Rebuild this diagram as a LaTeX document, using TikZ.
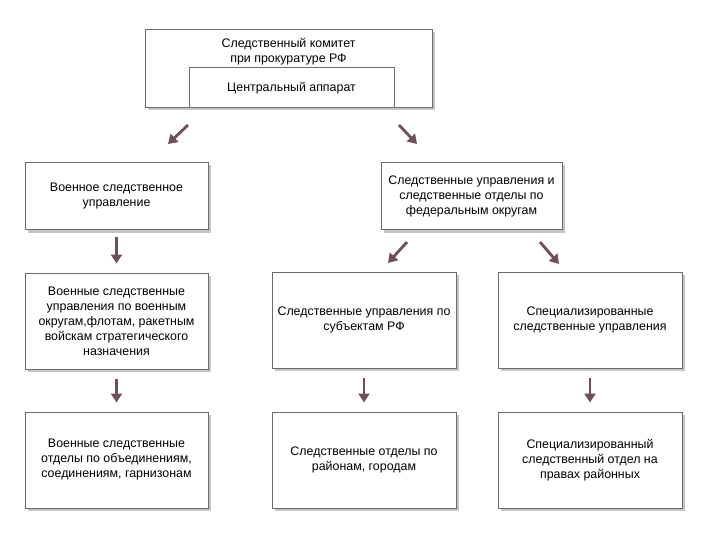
\documentclass[tikz,border=0pt]{standalone}
\usepackage{fontspec}
\setmainfont{Liberation Sans}
\usetikzlibrary{arrows.meta,shadows}
\definecolor{strelka}{RGB}{112,78,92}
\definecolor{ramka}{RGB}{105,105,105}

\begin{document}
\begin{tikzpicture}[x=1pt,y=-1pt,font=\fontsize{12.4}{15}\selectfont]

      \useasboundingbox (0,0) rectangle (720,540);

      \begin{scope}[every node/.style={draw=ramka,line width=1pt,fill=white,align=center,inner sep=0pt,
          drop shadow={shadow xshift=2.5pt,shadow yshift=-2.5pt,fill=black!45}}]
        \node[minimum width=287,minimum height=78] (1) at (288.5,69) {};
        \node[minimum width=183,minimum height=67] (2) at (116.5,196.5) {Военное следственное\\управление};
        \node[minimum width=181,minimum height=67] (3) at (471.5,196.5) {Следственные управления и\\следственные отделы по\\федеральным округам};
        \node[minimum width=183,minimum height=96] (4) at (116.5,321) {Военные следственные\\управления по военным\\округам,флотам, ракетным\\войскам стратегического\\назначения};
        \node[minimum width=184,minimum height=96] (5) at (364,320) {\raisebox{9pt}{\begin{tabular}{@{}c@{}}Следственные управления по\\субъектам РФ\end{tabular}}};
        \node[minimum width=184,minimum height=96] (6) at (590,320) {Специализированные\\следственные управления};
        \node[minimum width=183,minimum height=96] (7) at (116.5,460) {Военные следственные\\отделы по объединениям,\\соединениям, гарнизонам};
        \node[minimum width=184,minimum height=96] (8) at (364,460) {Следственные отделы по\\районам, городам};
        \node[minimum width=184,minimum height=96] (9) at (590,460) {Специализированный\\следственный отдел на\\правах районных};
      \end{scope}

      \node[align=center] (10) at (288.5,52) {Следственный комитет\\при прокуратуре РФ};
      \node[draw=ramka,line width=1pt,minimum width=205,minimum height=40,inner sep=0pt] (11) at (291.5,88) {\raisebox{-2.5pt}{Центральный аппарат}};

      \coordinate (a1) at (188,125);
      \coordinate (b1) at (168,144);
      \coordinate (a2) at (399,125);
      \coordinate (b2) at (417,144);
      \coordinate (a3) at (407,242);
      \coordinate (b3) at (388,263);
      \coordinate (a4) at (540,242);
      \coordinate (b4) at (559,264);

      \begin{scope}[every path/.style={draw=strelka,line width=2.8pt,-{Triangle[width=11pt,length=9pt]}}]
        \path (a1) -- (b1);
        \path (a2) -- (b2);
        \path (a3) -- (b3);
        \path (a4) -- (b4);
        \path (2) edge[shorten <=6pt,shorten >=9pt] (4);
        \path (4) edge[shorten <=9pt,shorten >=9pt] (7);
        \path (5) edge[shorten <=9pt,shorten >=9pt] (8);
        \path (6) edge[shorten <=9pt,shorten >=9pt] (9);
      \end{scope}

    \end{tikzpicture}
\end{document}
